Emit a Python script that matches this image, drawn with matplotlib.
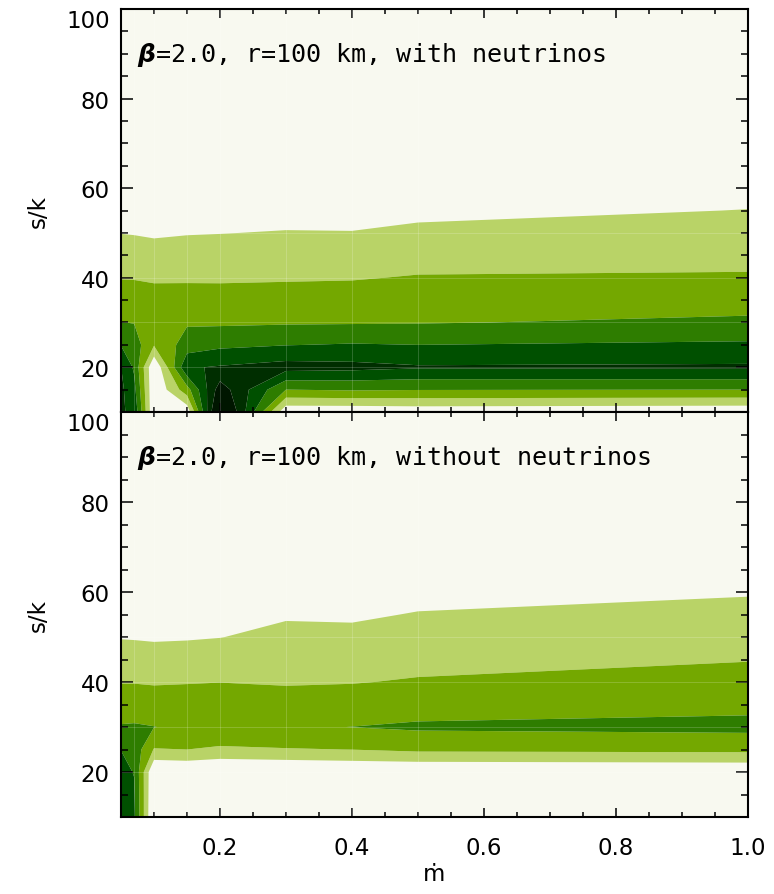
import numpy as np
import matplotlib
matplotlib.use("Agg")
import matplotlib.pyplot as plt
from matplotlib.ticker import MultipleLocator

# grid of the contoured quantity (x = mdot, y = s/k)
mdot = [0.05, 0.07, 0.10, 0.15, 0.20, 0.30, 0.40, 0.50, 1.00]
s_k = [10, 15, 20, 25, 30, 35, 40, 45, 50, 55, 60, 70, 80, 90, 100]

# panel 1: with neutrinos  (one list per mdot column, values along s/k)
w_005 = [5.10, 5.20, 5.02, 3.96, 3.02, 2.48, 1.96, 1.47, 0.98, 0.60, 0.40, 0.20, 0.10, 0.0, 0.0]
w_007 = [4.80, 4.30, 3.85, 3.50, 2.97, 2.45, 1.95, 1.45, 0.95, 0.60, 0.40, 0.20, 0.10, 0.0, 0.0]
w_010 = [0.00, 0.00, 0.00, 2.08, 2.60, 2.30, 1.90, 1.40, 0.87, 0.50, 0.30, 0.20, 0.10, 0.0, 0.0]
w_015 = [0.25, 2.60, 4.90, 3.45, 2.89, 2.38, 1.88, 1.43, 0.95, 0.50, 0.30, 0.20, 0.10, 0.0, 0.0]
w_020 = [8.00, 6.55, 5.09, 3.78, 2.85, 2.36, 1.88, 1.43, 0.98, 0.55, 0.35, 0.20, 0.10, 0.0, 0.0]
w_030 = [0.20, 3.00, 5.40, 3.97, 2.90, 2.40, 1.91, 1.48, 1.05, 0.65, 0.40, 0.20, 0.10, 0.0, 0.0]
w_040 = [0.20, 3.10, 5.30, 4.07, 2.92, 2.43, 1.94, 1.49, 1.04, 0.60, 0.40, 0.20, 0.10, 0.0, 0.0]
w_050 = [0.30, 3.04, 5.10, 4.00, 2.95, 2.50, 2.06, 1.63, 1.20, 0.77, 0.50, 0.30, 0.10, 0.0, 0.0]
w_100 = [0.20, 3.00, 5.15, 4.16, 3.18, 2.59, 2.10, 1.72, 1.37, 1.02, 0.70, 0.40, 0.20, 0.1, 0.0]

# panel 2: without neutrinos
n_005 = [4.50, 4.40, 4.20, 3.99, 3.07, 2.52, 1.96, 1.45, 0.95, 0.50, 0.30, 0.10, 0.0, 0.0, 0.0]
n_007 = [4.20, 4.10, 3.97, 3.60, 3.10, 2.52, 1.96, 1.45, 0.93, 0.50, 0.30, 0.10, 0.0, 0.0, 0.0]
n_010 = [-0.30, -0.20, -0.10, 1.94, 3.02, 2.45, 1.92, 1.40, 0.89, 0.50, 0.30, 0.10, 0.0, 0.0, 0.0]
n_015 = [-0.30, -0.20, 0.00, 2.00, 2.80, 2.40, 1.96, 1.44, 0.92, 0.50, 0.30, 0.10, 0.0, 0.0, 0.0]
n_020 = [-0.30, -0.20, -0.20, 1.85, 2.80, 2.40, 1.99, 1.50, 0.98, 0.50, 0.30, 0.10, 0.0, 0.0, 0.0]
n_030 = [-0.30, -0.20, -0.10, 1.94, 2.90, 2.40, 1.92, 1.59, 1.25, 0.90, 0.55, 0.20, 0.0, 0.0, 0.0]
n_040 = [-0.30, -0.20, 0.00, 2.01, 3.01, 2.47, 1.96, 1.59, 1.23, 0.87, 0.50, 0.20, 0.0, 0.0, 0.0]
n_050 = [-0.30, -0.20, 0.00, 2.20, 3.15, 2.55, 2.08, 1.72, 1.39, 1.05, 0.70, 0.30, 0.0, 0.0, 0.0]
n_100 = [0.00, 0.05, 0.09, 2.26, 3.26, 2.76, 2.37, 1.96, 1.62, 1.27, 0.93, 0.50, 0.20, 0.0, 0.0]

levels = [1, 2, 3, 4, 5, 6, 100]
fill_colors = ["#B9D367", "#74A800", "#2E7D00", "#005000", "#002E00", "#001600"]
bg_color = "#F8F9F0"

panel_titles = [r"$\mathbfit{\beta}$=2.0, r=100 km, with neutrinos",
                r"$\mathbfit{\beta}$=2.0, r=100 km, without neutrinos"]
y_ticks = [20, 40, 60, 80, 100]
x_ticks = [0.2, 0.4, 0.6, 0.8, 1.0]

Z_with = np.column_stack([w_005, w_007, w_010, w_015, w_020, w_030, w_040, w_050, w_100])
Z_without = np.column_stack([n_005, n_007, n_010, n_015, n_020, n_030, n_040, n_050, n_100])

FS = 16.5
fig = plt.figure(figsize=(7.74, 8.95), dpi=100)
ax1 = fig.add_axes([0.1563, 0.5385, 0.8101, 0.4503])
ax2 = fig.add_axes([0.1563, 0.0860, 0.8101, 0.4525])

for ax, Z, title in [(ax1, Z_with, panel_titles[0]), (ax2, Z_without, panel_titles[1])]:
    ax.set_facecolor(bg_color)
    ax.contourf(mdot, s_k, Z, levels=levels, colors=fill_colors, antialiased=True)
    # faint polygon seams of the original fill
    for xv in mdot[1:-1]:
        ax.axvline(xv, color="white", lw=0.7, alpha=0.18, zorder=2)
    for yv in [20, 30, 40, 50]:
        ax.axhline(yv, color="white", lw=0.7, alpha=0.18, zorder=2)
    ax.set_xlim(0.05, 1.0)
    ax.set_ylim(10, 100)
    ax.set_yticks(y_ticks, labels=[str(v) for v in y_ticks])
    ax.yaxis.set_minor_locator(MultipleLocator(5))
    ax.set_xticks(x_ticks, labels=["%.1f" % v for v in x_ticks])
    ax.xaxis.set_minor_locator(MultipleLocator(0.05))
    ax.tick_params(axis="both", which="both", direction="in", top=True, right=True,
                   labelsize=FS, color="black")
    ax.tick_params(axis="y", which="major", length=8.5, width=1.1, pad=8)
    ax.tick_params(axis="y", which="minor", length=4.8, width=1.1)
    ax.tick_params(axis="x", which="major", length=6.5, width=1.1, pad=14)
    ax.tick_params(axis="x", which="minor", length=3.5, width=1.1)
    for sp in ax.spines.values():
        sp.set_linewidth(1.5)
        sp.set_zorder(5)
    ax.yaxis.get_ticklabels()[-1].set_va("top")
    ax.set_ylabel("s/k", fontsize=FS, labelpad=12)
    ax.text(0.026, 0.888, title, transform=ax.transAxes, fontsize=18,
            family="DejaVu Sans Mono", ha="left", va="center", zorder=6)

ax1.tick_params(axis="x", labelbottom=False)
ax2.set_xlabel("ṁ", fontsize=FS, labelpad=2)

fig.savefig("out.png", dpi=100, facecolor="white")
